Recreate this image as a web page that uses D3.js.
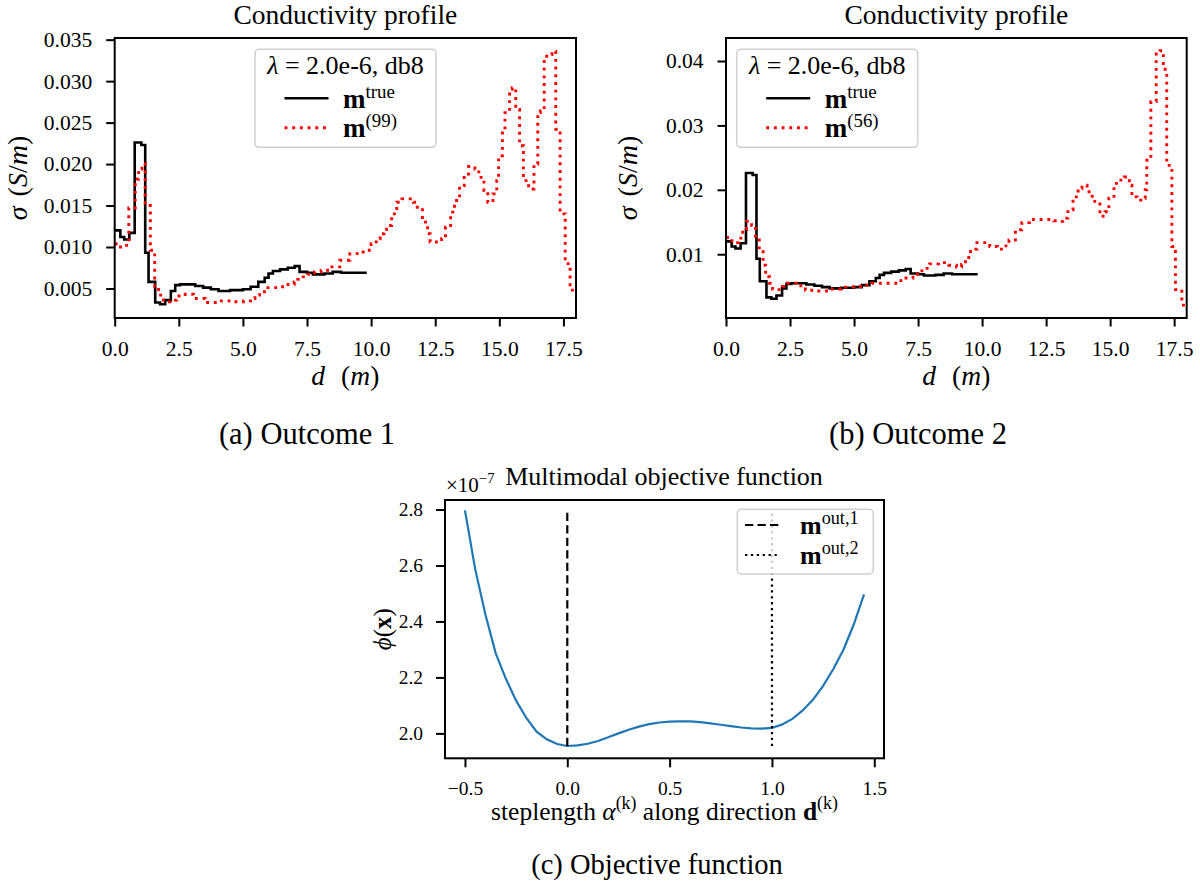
<!DOCTYPE html>
<html>
<head>
<meta charset="utf-8">
<script src="https://cdn.jsdelivr.net/npm/d3@7"></script>
<style>
  body { margin: 0; background: #fff; }
  svg text { font-family: "Liberation Serif", "Times New Roman", serif; fill: #000; }
</style>
</head>
<body>
<svg id="fig" width="1200" height="886"></svg>
<script>
// ---- true conductivity model (step profile) ----
const trueDepth = [0, 0.22, 0.37, 0.57, 0.78, 1.04, 1.19, 1.32, 1.58, 1.77, 1.97, 2.19, 2.36, 2.55, 3.14, 3.45, 3.75, 4.05, 4.5, 5.0, 5.3, 5.6, 5.85, 6.0, 6.17, 6.45, 6.75, 7.02, 7.21, 7.5, 7.73, 8.18, 8.5, 8.83, 9.83];
const trueSigma = [0.0120, 0.0112, 0.0109, 0.0117, 0.0226, 0.0223, 0.0093, 0.0058, 0.0033, 0.0031, 0.0036, 0.0047, 0.0054, 0.0055, 0.0053, 0.0051, 0.0049, 0.0047, 0.0048, 0.0049, 0.0052, 0.0058, 0.0063, 0.0068, 0.0071, 0.0073, 0.0075, 0.0077, 0.0070, 0.0069, 0.0067, 0.0068, 0.0070, 0.0069, 0.0069];

// ---- recovered model, outcome 1 (iteration 99) ----
const out1Depth = [0, 0.16, 0.39, 0.55, 0.8, 0.93, 1.06, 1.19, 1.39, 1.56, 1.71, 1.9, 2.16, 2.42, 2.75, 3.07, 3.53, 4.03, 4.56, 5.02, 5.3, 5.47, 5.65, 5.91, 6.43, 6.76, 7.0, 7.14, 7.35, 7.53, 7.8, 8.05, 8.4, 8.78, 9.17, 9.69, 10.0, 10.2, 10.35, 10.5, 10.6, 10.8, 11.0, 11.2, 11.65, 11.8, 12.0, 12.2, 12.3, 12.75, 12.9, 13.1, 13.25, 13.45, 13.63, 13.8, 14.05, 14.2, 14.4, 14.55, 14.75, 14.9, 14.97, 15.12, 15.22, 15.4, 15.5, 15.64, 15.79, 15.94, 16.14, 16.35, 16.5, 16.6, 16.75, 16.93, 17.05, 17.2, 17.37, 17.57, 17.76];
const out1Sigma = [0.0104, 0.0100, 0.0102, 0.0147, 0.0182, 0.0194, 0.0200, 0.0150, 0.0096, 0.0052, 0.0042, 0.0034, 0.0036, 0.0041, 0.0043, 0.0038, 0.0033, 0.0035, 0.0034, 0.0035, 0.0038, 0.0042, 0.0046, 0.0051, 0.0052, 0.0055, 0.0058, 0.0061, 0.0064, 0.0067, 0.0070, 0.0072, 0.0076, 0.0084, 0.0092, 0.0096, 0.0104, 0.0110, 0.0116, 0.0121, 0.0126, 0.0140, 0.0154, 0.0158, 0.0154, 0.0148, 0.0130, 0.0116, 0.0106, 0.0110, 0.0124, 0.0142, 0.0156, 0.0174, 0.0188, 0.0197, 0.0194, 0.0184, 0.0168, 0.0154, 0.0164, 0.0180, 0.0210, 0.0240, 0.0262, 0.0290, 0.0292, 0.0266, 0.0222, 0.0180, 0.0170, 0.0200, 0.0262, 0.0264, 0.0330, 0.0332, 0.0336, 0.0242, 0.0140, 0.0080, 0.0048];

// ---- recovered model, outcome 2 (iteration 56) ----
const out2Depth = [0, 0.15, 0.35, 0.5, 0.65, 0.8, 1.0, 1.15, 1.3, 1.45, 1.55, 1.7, 1.82, 2.0, 2.2, 2.4, 2.75, 3.1, 3.5, 4.0, 4.5, 5.0, 5.4, 5.7, 6.4, 6.7, 6.95, 7.3, 7.65, 7.95, 8.3, 8.7, 9.0, 9.2, 9.35, 9.55, 9.8, 10.3, 10.6, 10.85, 11.05, 11.3, 11.55, 11.85, 12.8, 13.0, 13.15, 13.35, 13.55, 13.75, 13.9, 14.1, 14.3, 14.6, 14.8, 14.95, 15.15, 15.35, 15.55, 15.75, 15.85, 16.05, 16.2, 16.37, 16.43, 16.59, 16.8, 16.95, 17.08, 17.15, 17.21, 17.41, 17.55, 17.8];
const out2Sigma = [0.0126, 0.0121, 0.0118, 0.0125, 0.0138, 0.0151, 0.0145, 0.0122, 0.0107, 0.0083, 0.0065, 0.0055, 0.0046, 0.0045, 0.0050, 0.0055, 0.0051, 0.0044, 0.0043, 0.0046, 0.0049, 0.0050, 0.0052, 0.0055, 0.0055, 0.0059, 0.0063, 0.0069, 0.0078, 0.0085, 0.0087, 0.0083, 0.0080, 0.0084, 0.0095, 0.0108, 0.0118, 0.0112, 0.0108, 0.0113, 0.0122, 0.0138, 0.0149, 0.0154, 0.0152, 0.0151, 0.0156, 0.0169, 0.0189, 0.0202, 0.0207, 0.0197, 0.0182, 0.0159, 0.0166, 0.0187, 0.0210, 0.0215, 0.0220, 0.0207, 0.0189, 0.0184, 0.0187, 0.0200, 0.0246, 0.0337, 0.0414, 0.0416, 0.0396, 0.0381, 0.0238, 0.0112, 0.0045, 0.0021];

// ---- objective function along the search direction ----
const alphaVals = [-0.5, -0.45, -0.4, -0.35, -0.3, -0.25, -0.2, -0.15, -0.1, -0.05, 0.0, 0.05, 0.1, 0.15, 0.2, 0.25, 0.3, 0.35, 0.4, 0.45, 0.5, 0.55, 0.6, 0.65, 0.7, 0.75, 0.8, 0.85, 0.9, 0.95, 1.0, 1.05, 1.1, 1.15, 1.2, 1.25, 1.3, 1.35, 1.4, 1.45];
const phiVals = [2.797, 2.587, 2.425, 2.287, 2.195, 2.117, 2.055, 2.006, 1.979, 1.962, 1.955, 1.957, 1.963, 1.973, 1.986, 2.000, 2.013, 2.024, 2.033, 2.039, 2.042, 2.043, 2.043, 2.040, 2.036, 2.031, 2.026, 2.021, 2.018, 2.017, 2.020, 2.032, 2.052, 2.082, 2.120, 2.170, 2.230, 2.300, 2.390, 2.497];
const outAlpha = [0.0, 1.0];

// ---- tick values ----
const depthTicks = [0, 2.5, 5, 7.5, 10, 12.5, 15, 17.5];
const sigmaTicksA = [0.005, 0.010, 0.015, 0.020, 0.025, 0.030, 0.035];
const sigmaTicksB = [0.01, 0.02, 0.03, 0.04];
const alphaTicks = [-0.5, 0, 0.5, 1.0, 1.5];
const phiTicks = [2.0, 2.2, 2.4, 2.6, 2.8];

const svg = d3.select("#fig");
const RED = "#ff0000", BLUE = "#1f77b4";

// text made of styled runs: {t, i: italic, b: bold, sup: superscript, dx: extra gap}
function rich(text, parts, size, raise = 0.45) {
  let shift = 0;
  parts.forEach(p => {
    const ts = text.append("tspan").text(p.t)
      .attr("font-size", p.sup ? size * 0.7 : size);
    if (p.i) ts.attr("font-style", "italic");
    if (p.b) ts.attr("font-weight", "bold");
    if (p.dx) ts.attr("dx", p.dx);
    const target = p.sup ? -size * raise : 0;
    if (target !== shift) { ts.attr("dy", target - shift); shift = target; }
  });
  return text;
}

function styleAxis(g, size) {
  g.select(".domain").remove();
  g.selectAll(".tick line").attr("stroke", "#000").attr("stroke-width", 2);
  g.selectAll(".tick text").attr("font-size", size).attr("fill", "#000");
  g.attr("font-family", null).attr("font-size", null);
}

function profilePanel(opt) {
  const { x0, x1, y0, y1 } = opt;
  const g = svg.append("g");
  const x = d3.scaleLinear().domain([0, 17.99]).range([x0, x1]);
  const y = d3.scaleLinear().domain(opt.yDomain).range([y1, y0]);

  const stepLine = d3.line().x(d => x(d[0])).y(d => y(d[1])).curve(d3.curveStepAfter);

  const truePts = trueDepth.map((d, i) => [d, trueSigma[i]]);
  const outPts = opt.depth.map((d, i) => [d, opt.sigma[i]]);
  outPts.push([17.99, opt.sigma[opt.sigma.length - 1]]);

  const clip = "clip" + opt.id;
  svg.append("clipPath").attr("id", clip).append("rect")
    .attr("x", x0).attr("y", y0).attr("width", x1 - x0).attr("height", y1 - y0);
  const plot = g.append("g").attr("clip-path", `url(#${clip})`);

  plot.append("path").attr("d", stepLine(truePts)).attr("fill", "none")
    .attr("stroke", "#000").attr("stroke-width", 2.6).attr("stroke-linejoin", "miter");
  plot.append("path").attr("d", stepLine(outPts)).attr("fill", "none")
    .attr("stroke", RED).attr("stroke-width", 2.9).attr("stroke-dasharray", "2.9,4.8");

  g.append("g").attr("transform", `translate(0,${y1})`)
    .call(d3.axisBottom(x).tickValues(depthTicks).tickFormat(d3.format(".1f")).tickSize(8.5).tickPadding(14))
    .call(a => styleAxis(a, 21.5));
  g.append("g").attr("transform", `translate(${x0},0)`)
    .call(d3.axisLeft(y).tickValues(opt.yTicks).tickFormat(d3.format(opt.yFmt)).tickSize(8.5).tickPadding(14))
    .call(a => styleAxis(a, 21.5));

  g.append("rect").attr("x", x0).attr("y", y0).attr("width", x1 - x0).attr("height", y1 - y0)
    .attr("fill", "none").attr("stroke", "#000").attr("stroke-width", 2);

  const cx = (x0 + x1) / 2;
  g.append("text").attr("x", cx).attr("y", 24).attr("text-anchor", "middle")
    .attr("font-size", 27.5).text("Conductivity profile");
  rich(g.append("text").attr("x", cx).attr("y", 385).attr("text-anchor", "middle"),
    [{ t: "d", i: true }, { t: "(", dx: 16 }, { t: "m", i: true }, { t: ")" }], 27.5);
  rich(g.append("text").attr("transform", `translate(${opt.ylabX},${(y0 + y1) / 2}) rotate(-90)`)
    .attr("text-anchor", "middle"),
    [{ t: "σ", i: true }, { t: "(", dx: 10 }, { t: "S", i: true }, { t: "/" }, { t: "m", i: true }, { t: ")" }], 28);
  g.append("text").attr("x", opt.capX).attr("y", 444).attr("text-anchor", "middle")
    .attr("font-size", 30.5).text(opt.caption);

  // legend
  const L = opt.leg;
  const lg = g.append("g");
  lg.append("rect").attr("x", L.x).attr("y", 49.3).attr("width", 181).attr("height", 98)
    .attr("rx", 4).attr("fill", "#fff").attr("fill-opacity", 0.8)
    .attr("stroke", "#d0d0d0").attr("stroke-width", 1.5);
  rich(lg.append("text").attr("x", L.x + 90.5).attr("y", 74).attr("text-anchor", "middle"),
    [{ t: "λ", i: true }, { t: " = 2.0e-6, db8" }], 26);
  lg.append("line").attr("x1", L.x + 29.5).attr("x2", L.x + 73.5).attr("y1", 98.3).attr("y2", 98.3)
    .attr("stroke", "#000").attr("stroke-width", 2.6);
  lg.append("line").attr("x1", L.x + 29.5).attr("x2", L.x + 73.5).attr("y1", 127.7).attr("y2", 127.7)
    .attr("stroke", RED).attr("stroke-width", 2.9).attr("stroke-dasharray", "2.9,4.8");
  rich(lg.append("text").attr("x", L.x + 88).attr("y", 107.5),
    [{ t: "m", b: true }, { t: "true", sup: true }], 27, 0.36);
  rich(lg.append("text").attr("x", L.x + 88).attr("y", 137),
    [{ t: "m", b: true }, { t: "(" + opt.iter + ")", sup: true }], 27, 0.36);
}

profilePanel({
  id: "a", x0: 114.7, x1: 576, y0: 38, y1: 318,
  yDomain: [0.00144, 0.0352], yTicks: sigmaTicksA, yFmt: ".3f",
  depth: out1Depth, sigma: out1Sigma, iter: 99,
  ylabX: 27, capX: 307, caption: "(a) Outcome 1", leg: { x: 255 }
});
profilePanel({
  id: "b", x0: 726, x1: 1186.7, y0: 38, y1: 318,
  yDomain: [0.0001, 0.04357], yTicks: sigmaTicksB, yFmt: ".2f",
  depth: out2Depth, sigma: out2Sigma, iter: 56,
  ylabX: 637, capX: 918, caption: "(b) Outcome 2", leg: { x: 736.7 }
});

// ---- objective function panel ----
(function () {
  const x0 = 445, x1 = 884, y0 = 500, y1 = 758.3;
  const g = svg.append("g");
  const x = d3.scaleLinear().domain([-0.5975, 1.5475]).range([x0, x1]);
  const y = d3.scaleLinear().domain([1.911, 2.834]).range([y1, y0]);
  const line = d3.line().x((d, i) => x(alphaVals[i])).y(d => y(d));

  g.append("path").attr("d", line(phiVals)).attr("fill", "none")
    .attr("stroke", BLUE).attr("stroke-width", 2.2);

  const lo = d3.min(phiVals), hi = d3.max(phiVals);
  const dashes = ["8.3,4.2", "2.3,3.6"];
  outAlpha.forEach((a, i) => {
    g.append("line").attr("x1", x(a)).attr("x2", x(a)).attr("y1", y(lo)).attr("y2", y(hi))
      .attr("stroke", "#000").attr("stroke-width", 2.2).attr("stroke-dasharray", dashes[i]);
  });

  g.append("g").attr("transform", `translate(0,${y1})`)
    .call(d3.axisBottom(x).tickValues(alphaTicks).tickFormat(d3.format(".1f")).tickSize(9).tickPadding(14))
    .call(a => styleAxis(a, 19.5));
  g.append("g").attr("transform", `translate(${x0},0)`)
    .call(d3.axisLeft(y).tickValues(phiTicks).tickFormat(d3.format(".1f")).tickSize(9).tickPadding(13))
    .call(a => styleAxis(a, 19.5));
  g.append("rect").attr("x", x0).attr("y", y0).attr("width", x1 - x0).attr("height", y1 - y0)
    .attr("fill", "none").attr("stroke", "#000").attr("stroke-width", 2);

  rich(g.append("text").attr("x", 446).attr("y", 492),
    [{ t: "×10" }, { t: "−7", sup: true }], 21);
  g.append("text").attr("x", 664).attr("y", 485).attr("text-anchor", "middle")
    .attr("font-size", 26).text("Multimodal objective function");
  rich(g.append("text").attr("x", (x0 + x1) / 2).attr("y", 820).attr("text-anchor", "middle"),
    [{ t: "steplength " }, { t: "α", i: true }, { t: "(k)", sup: true }, { t: " along direction " },
     { t: "d", b: true }, { t: "(k)", sup: true }], 25.5);
  rich(g.append("text").attr("transform", `translate(391,${(y0 + y1) / 2}) rotate(-90)`)
    .attr("text-anchor", "middle"),
    [{ t: "ϕ", i: true }, { t: "(" }, { t: "x", b: true }, { t: ")" }], 25);
  g.append("text").attr("x", 657).attr("y", 874).attr("text-anchor", "middle")
    .attr("font-size", 28.5).text("(c) Objective function");

  // legend
  const lg = g.append("g");
  lg.append("rect").attr("x", 737.3).attr("y", 509.3).attr("width", 136).attr("height", 64.7)
    .attr("rx", 4).attr("fill", "#fff").attr("fill-opacity", 0.8)
    .attr("stroke", "#d0d0d0").attr("stroke-width", 1.5);
  [["out,1", 525], ["out,2", 555]].forEach((r, i) => {
    lg.append("line").attr("x1", 745).attr("x2", 780).attr("y1", r[1]).attr("y2", r[1])
      .attr("stroke", "#000").attr("stroke-width", 2.2).attr("stroke-dasharray", dashes[i]);
    rich(lg.append("text").attr("x", 800).attr("y", r[1] + 8.5),
      [{ t: "m", b: true }, { t: r[0], sup: true }], 26, 0.36);
  });
})();
</script>
</body>
</html>
